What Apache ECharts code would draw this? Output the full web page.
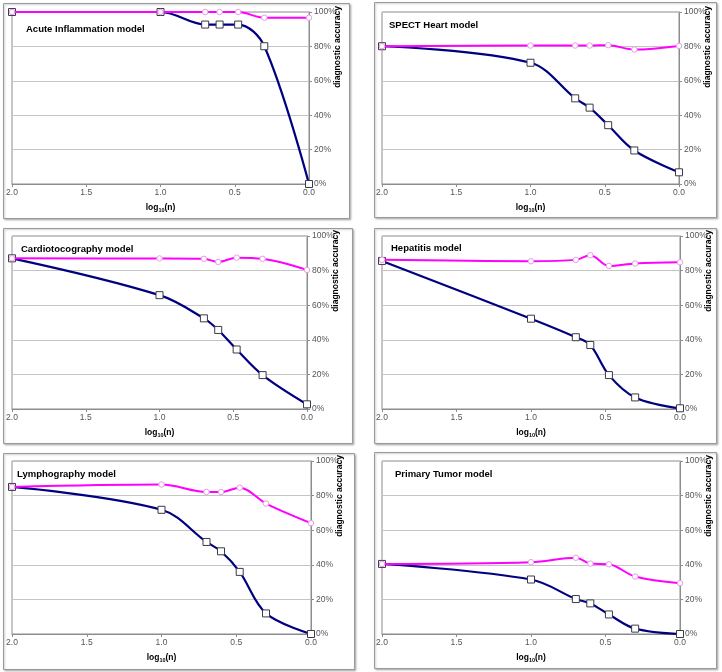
<!DOCTYPE html>
<html>
<head>
<meta charset="utf-8">
<script src="https://cdn.jsdelivr.net/npm/echarts@6/dist/echarts.min.js"></script>
<style>
html,body{margin:0;padding:0;background:#fff;}
#c{width:722px;height:672px;}
</style>
</head>
<body>
<div id="c"></div>
<script>
// log10(n) for n = 100, 10, 5, 4, 3, 2, 1
const xValues = [2.0, 1.0, 0.699, 0.602, 0.477, 0.301, 0.0];
const xTicks = ['2.0', '1.5', '1.0', '0.5', '0.0'];
const yTicks = ['0%', '20%', '40%', '60%', '80%', '100%'];
const panelTitles = ['Acute Inflammation model', 'SPECT Heart model', 'Cardiotocography model',
  'Hepatitis model', 'Lymphography model', 'Primary Tumor model'];

// pink (circles) series, diagnostic accuracy %
const pinkAcute   = [100, 100, 100, 100, 100, 96.7, 96.7];
const pinkSpect   = [80.1, 80.5, 80.5, 80.5, 80.7, 78.2, 80.3];
const pinkCardio  = [87.1, 87.0, 86.8, 85.0, 87.5, 86.8, 80.4];
const pinkHepat   = [86.2, 85.4, 86.2, 88.9, 82.7, 84.1, 84.8];
const pinkLympho  = [85.0, 86.4, 82.1, 82.1, 84.6, 75.4, 64.1];
const pinkTumor   = [40.5, 41.5, 44.1, 40.7, 40.3, 33.2, 29.4];

// navy (squares) series, diagnostic accuracy %
const blueAcute   = [100, 100, 92.7, 92.7, 92.7, 80.1, 0];
const blueSpect   = [80.1, 70.5, 49.8, 44.4, 34.2, 19.5, 6.8];
const blueCardio  = [87.1, 65.8, 52.4, 45.7, 34.4, 19.6, 2.7];
const blueHepat   = [85.6, 52.2, 41.5, 37.0, 19.6, 6.7, 0.4];
const blueLympho  = [85.0, 71.8, 53.2, 47.8, 35.9, 11.9, 0];
const blueTumor   = [40.5, 31.5, 20.2, 17.7, 11.3, 3.1, 0];

const pinkAll = [pinkAcute, pinkSpect, pinkCardio, pinkHepat, pinkLympho, pinkTumor];
const blueAll = [blueAcute, blueSpect, blueCardio, blueHepat, blueLympho, blueTumor];

// layout (plot areas and frames)
const plots = [
  {l: 12, r: 309, t: 12, b: 184, fx: 3, fy: 3, fw: 346, fh: 215, tx: 26, ty: 29},
  {l: 382, r: 679, t: 12, b: 184, fx: 374, fy: 2, fw: 342, fh: 215, tx: 389, ty: 25},
  {l: 12, r: 307, t: 236, b: 409, fx: 3, fy: 228, fw: 349, fh: 215, tx: 21, ty: 249},
  {l: 382, r: 680, t: 236, b: 409, fx: 374, fy: 228, fw: 342, fh: 215, tx: 391, ty: 248},
  {l: 12, r: 311, t: 461, b: 634, fx: 3, fy: 453, fw: 351, fh: 216, tx: 17, ty: 474},
  {l: 382, r: 680, t: 461, b: 634, fx: 374, fy: 452, fw: 342, fh: 216, tx: 395, ty: 474}
];

const FONT = '"Liberation Sans", Arial, sans-serif';
const grid = [], xAxis = [], yAxis = [], series = [], graphic = [];

plots.forEach((p, i) => {
  graphic.push({
    type: 'rect', silent: true, z: -10,
    shape: {x: p.fx + 0.5, y: p.fy + 0.5, width: p.fw, height: p.fh},
    style: {fill: '#fff', stroke: '#9a9a9a', lineWidth: 1, shadowColor: 'rgba(0,0,0,0.25)', shadowBlur: 2, shadowOffsetX: 1, shadowOffsetY: 1}
  });
  graphic.push({
    type: 'text', silent: true, z: 10,
    x: p.tx, y: p.ty,
    style: {text: panelTitles[i], font: 'bold 9.5px ' + FONT, fill: '#000', verticalAlign: 'middle'}
  });
  graphic.push({
    type: 'text', silent: true, z: 10,
    x: p.r + 29, y: p.t + 35, rotation: Math.PI / 2,
    style: {text: 'diagnostic accuracy', font: 'bold 8.5px ' + FONT, fill: '#000', align: 'center', verticalAlign: 'middle'}
  });
  grid.push({
    left: p.l, top: p.t, width: p.r - p.l, height: p.b - p.t,
    show: true, borderColor: '#8c8c8c', borderWidth: 1, backgroundColor: 'transparent'
  });
  xAxis.push({
    type: 'value', gridIndex: i, min: 0, max: 2, interval: 0.5, inverse: true,
    axisLine: {show: true, onZero: false, lineStyle: {color: '#8c8c8c', width: 1}},
    axisTick: {show: true, inside: false, length: 3, lineStyle: {color: '#8c8c8c'}},
    axisLabel: {color: '#555', fontSize: 8.5, fontFamily: FONT, margin: 4,
      formatter: v => xTicks[Math.round((2 - v) / 0.5)]},
    splitLine: {show: false},
    name: 'log{s|10}(n)', nameLocation: 'middle', nameGap: 19,
    nameTextStyle: {color: '#000', fontWeight: 'bold', fontSize: 8.5, fontFamily: FONT,
      rich: {s: {fontSize: 5.5, fontWeight: 'bold', fontFamily: FONT, verticalAlign: 'bottom', padding: [4, 0, 0, 0]}}}
  });
  yAxis.push({
    type: 'value', gridIndex: i, position: 'right', min: 0, max: 100, interval: 20,
    axisLine: {show: true, lineStyle: {color: '#8c8c8c', width: 1}},
    axisTick: {show: true, inside: false, length: 3, lineStyle: {color: '#8c8c8c'}},
    axisLabel: {color: '#555', fontSize: 8.5, fontFamily: FONT, margin: 5,
      formatter: v => yTicks[Math.round(v / 20)]},
    splitLine: {show: true, lineStyle: {color: '#c4c4c4', width: 1}}
  });
  series.push({
    type: 'line', xAxisIndex: i, yAxisIndex: i, smooth: 0.35,
    data: xValues.map((x, k) => [x, blueAll[i][k]]),
    lineStyle: {color: '#000080', width: 2.2},
    symbol: 'rect', symbolSize: 7, showAllSymbol: true,
    itemStyle: {color: '#fff', borderColor: '#3a3a4a', borderWidth: 1},
    z: 3, animation: false, silent: true
  });
  series.push({
    type: 'line', xAxisIndex: i, yAxisIndex: i, smooth: 0.35,
    data: xValues.map((x, k) => [x, pinkAll[i][k]]),
    lineStyle: {color: '#ff00ff', width: 2},
    symbol: 'circle', symbolSize: 5.5, showAllSymbol: true,
    itemStyle: {color: '#fff', borderColor: '#e99be9', borderWidth: 1},
    z: 4, animation: false, silent: true
  });
});

const chart = echarts.init(document.getElementById('c'), null, {renderer: 'canvas'});
chart.setOption({
  backgroundColor: '#fff',
  animation: false,
  grid, xAxis, yAxis, series, graphic
});
</script>
</body>
</html>
